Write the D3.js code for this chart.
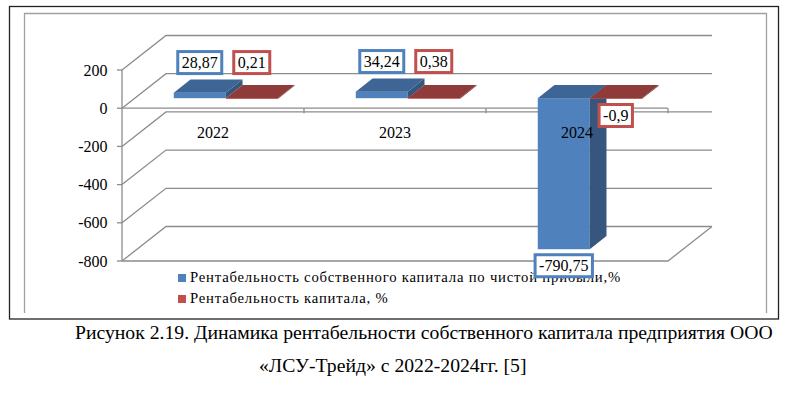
<!DOCTYPE html>
<html>
<head>
<meta charset="utf-8">
<script src="https://cdn.jsdelivr.net/npm/d3@7"></script>
<style>
    body { margin: 0; background: #fff; }
    svg { display: block; }
</style>
</head>
<body>
<svg id="chart" width="800" height="397"></svg>
<script>
// data
var years = ["2022", "2023", "2024"];
var seriesNames = [
    "Рентабельность собственного капитала по чистой прибыли,%",
    "Рентабельность капитала, %"
];
var roeValues = [28.87, 34.24, -790.75];
var roaValues = [0.21, 0.38, -0.9];
var yTicks = [200, 0, -200, -400, -600, -800];
var captionLines = [
    "Рисунок 2.19. Динамика рентабельности собственного капитала предприятия ООО",
    "«ЛСУ-Трейд» с 2022-2024гг. [5]"
];

var FONT = "'Liberation Serif', 'Times New Roman', serif",
    series = [roeValues, roaValues],
    colors = [
        { front: "#4f81bd", top: "#3d6595", side: "#36567e", line: "#4f81bd" },
        { front: "#c0504d", top: "#8f3b39", side: "#7a3230", line: "#c0504d" }
    ],
    plot = { left: 122, right: 668, top: 70, bottom: 261 },
    depth = { dx: 44, dy: -34.5 },
    barFront = 0.29,
    barBack = 0.67,
    gridColor = "#8c8c8c";

var svg = d3.select("#chart").style("font-family", FONT);

var x = d3.scaleBand().domain(years).range([plot.left, plot.right]);
var xs = d3.scaleBand().domain([0, 1]).range([0, x.bandwidth()]).paddingOuter(0.75);
var y = d3.scaleLinear().domain([-800, 200]).range([plot.bottom, plot.top]);

var fmt = function (v) { return String(v).replace(".", ","); };

// frames
svg.append("rect")
    .attr("x", 9.5).attr("y", 6.5).attr("width", 769).attr("height", 312.5)
    .attr("fill", "none").attr("stroke", "#222").attr("stroke-width", 1.3);
svg.append("path")
    .attr("d", "M24.5,313V13.5H766.5V313")
    .attr("fill", "none").attr("stroke", "#a0a0a0").attr("stroke-width", 1.3);

// walls: side wall diagonals + back wall gridlines
var grid = svg.append("g").attr("class", "grid")
    .attr("fill", "none").attr("stroke", gridColor).attr("stroke-width", 1.3);
yTicks.forEach(function (v) {
    grid.append("path").attr("d",
        "M" + plot.left + "," + y(v) +
        "L" + (plot.left + depth.dx) + "," + (y(v) + depth.dy) +
        "H" + (plot.right + depth.dx));
});
// floor edge
grid.append("path").attr("d",
    "M" + plot.left + "," + y(-800) +
    "H" + plot.right +
    "L" + (plot.right + depth.dx) + "," + (y(-800) + depth.dy));

// value axis
var yAxis = svg.append("g").attr("class", "y-axis");
yAxis.append("line")
    .attr("x1", plot.left).attr("x2", plot.left)
    .attr("y1", y(200)).attr("y2", y(-800))
    .attr("stroke", gridColor).attr("stroke-width", 1.3);
yAxis.selectAll(".tick").data(yTicks).enter().append("line")
    .attr("x1", plot.left - 5).attr("x2", plot.left)
    .attr("y1", function (d) { return y(d); }).attr("y2", function (d) { return y(d); })
    .attr("stroke", gridColor).attr("stroke-width", 1.3);
yAxis.selectAll("text").data(yTicks).enter().append("text")
    .attr("x", plot.left - 14.5).attr("y", function (d) { return y(d) + 5.5; })
    .attr("text-anchor", "end").attr("font-size", "16px")
    .text(function (d) { return d; });

// category axis at zero
var xAxis = svg.append("g").attr("class", "x-axis")
    .attr("stroke", gridColor).attr("stroke-width", 1.3);
xAxis.append("line")
    .attr("x1", plot.left).attr("x2", plot.right)
    .attr("y1", y(0)).attr("y2", y(0));
years.forEach(function (d) {
    var xr = x(d) + x.bandwidth();
    xAxis.append("line").attr("x1", xr).attr("x2", xr)
        .attr("y1", y(0)).attr("y2", y(0) + 5);
});

// bars
var bars = svg.append("g").attr("class", "bars");
var barGeom = function (s, i) {
    var v = series[s][i],
        x0 = x(years[i]) + xs(s) + depth.dx * barFront,
        w = xs.bandwidth(),
        yT = y(Math.max(v, 0)) + depth.dy * barFront,
        yB = y(Math.min(v, 0)) + depth.dy * barFront,
        ddx = depth.dx * (barBack - barFront),
        ddy = depth.dy * (barBack - barFront);
    return { v: v, x0: x0, w: w, yT: yT, yB: Math.max(yB, yT + 0.8), ddx: ddx, ddy: ddy };
};
years.forEach(function (yr, i) {
    [0, 1].forEach(function (s) {
        var g = barGeom(s, i), c = colors[s];
        bars.append("rect")
            .attr("x", g.x0).attr("y", g.yT)
            .attr("width", g.w).attr("height", g.yB - g.yT)
            .attr("fill", c.front);
        bars.append("path")
            .attr("d", "M" + g.x0 + "," + g.yT + "H" + (g.x0 + g.w) +
                "l" + g.ddx + "," + g.ddy + "H" + (g.x0 + g.ddx) + "Z")
            .attr("fill", c.top);
        bars.append("path")
            .attr("d", "M" + (g.x0 + g.w) + "," + g.yT +
                "l" + g.ddx + "," + g.ddy +
                "V" + (g.yB + g.ddy) +
                "L" + (g.x0 + g.w) + "," + g.yB + "Z")
            .attr("fill", c.side);
    });
});

// category labels
svg.append("g").selectAll("text").data(years).enter().append("text")
    .attr("x", function (d) { return x(d) + x.bandwidth() / 2; })
    .attr("y", 138)
    .attr("text-anchor", "middle").attr("font-size", "16px")
    .text(function (d) { return d; });

// legend
var legend = svg.append("g").attr("class", "legend");
var legendText = [];
seriesNames.forEach(function (name, s) {
    var ly = 282 + s * 21;
    legend.append("rect")
        .attr("x", 178).attr("y", ly - 8).attr("width", 8).attr("height", 8)
        .attr("fill", colors[s].front);
    legendText.push(legend.append("text")
        .attr("x", 190).attr("y", ly)
        .attr("font-size", "14.7px")
        .text(name));
});
var natural = legendText[0].node().getComputedTextLength();
var spacing = (431 - natural) / seriesNames[0].length;
legendText.forEach(function (t) { t.attr("letter-spacing", spacing + "px"); });

// data labels
var labels = svg.append("g").attr("class", "labels");
years.forEach(function (yr, i) {
    // positive labels in one category share a row above the tallest bar
    var rowBottom = d3.min([0, 1], function (s) {
        var g = barGeom(s, i);
        return g.v >= 0 ? g.yT + g.ddy - 4.5 : Infinity;
    });
    [0, 1].forEach(function (s) {
        var g = barGeom(s, i),
            cx = g.x0 + g.w / 2,
            boxTop = g.v >= 0 ? rowBottom - 1.5 - 22 : g.yB + 4 + 1.5;
        var box = labels.append("rect")
            .attr("y", boxTop).attr("height", 22)
            .attr("fill", "#fff").attr("stroke", colors[s].line).attr("stroke-width", 3);
        var t = labels.append("text")
            .attr("x", cx).attr("y", boxTop + 11 + 5.5)
            .attr("text-anchor", "middle").attr("font-size", "16px")
            .text(fmt(g.v));
        var tw = t.node().getComputedTextLength() + 8;
        box.attr("x", cx - tw / 2).attr("width", tw);
    });
});

// caption
svg.append("text").attr("x", 75).attr("y", 339).attr("font-size", "19.7px").text(captionLines[0]);
svg.append("text").attr("x", 259).attr("y", 372).attr("font-size", "19.7px").text(captionLines[1]);
</script>
</body>
</html>
